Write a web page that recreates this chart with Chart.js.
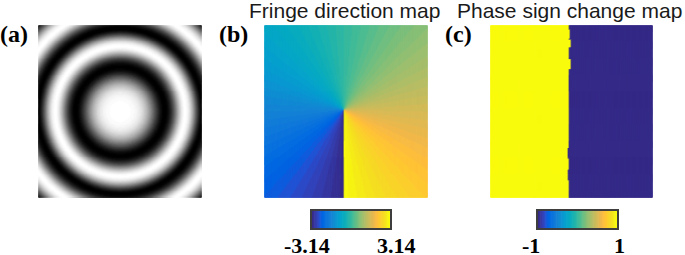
<!DOCTYPE html>
<html><head><meta charset="utf-8">
<script src="https://cdn.jsdelivr.net/npm/chart.js@4/dist/chart.umd.min.js"></script>
<style>
html,body{margin:0;padding:0;background:#fff}
body{width:685px;height:255px;position:relative;overflow:hidden}
.abs{position:absolute}
canvas{display:block}
.lbl{font-family:"Liberation Serif","Times New Roman",serif;font-weight:bold;color:#000;line-height:1;white-space:nowrap}
.ttl{font-family:"Liberation Sans",Arial,sans-serif;font-size:21px;color:#1a1a1a;line-height:1;white-space:nowrap}
.cbox{border:2px solid #3e3e3e;box-sizing:border-box}
</style></head>
<body>
<div class="abs ttl" id="t1" style="left:249px;top:0px"></div>
<div class="abs ttl" id="t2" style="left:457px;top:0px"></div>
<div class="abs lbl" id="la" style="left:0px;top:22px;font-size:24px"></div>
<div class="abs lbl" id="lb" style="left:219px;top:22px;font-size:24px"></div>
<div class="abs lbl" id="lc" style="left:445px;top:22px;font-size:24px"></div>

<canvas class="abs" id="imgA" width="166" height="175" style="left:37px;top:24px"></canvas>
<canvas class="abs" id="imgB" width="166" height="175" style="left:263px;top:24px"></canvas>
<canvas class="abs" id="imgC" width="165" height="175" style="left:489px;top:24px"></canvas>

<div class="abs cbox" style="left:310px;top:209px;width:82px;height:21px"><canvas id="cbB" width="78" height="17"></canvas></div>
<div class="abs cbox" style="left:536px;top:209px;width:83px;height:21px"><canvas id="cbC" width="79" height="17"></canvas></div>

<div class="abs lbl" id="kb0" style="left:284px;top:235px;font-size:22px"></div>
<div class="abs lbl" id="kb1" style="left:377px;top:235px;font-size:22px"></div>
<div class="abs lbl" id="kc0" style="left:522px;top:235px;font-size:22px"></div>
<div class="abs lbl" id="kc1" style="left:614px;top:235px;font-size:22px"></div>

<script>
// ---------- data ----------
const panelLabels = ['(a)', '(b)', '(c)'];
const panelTitles = ['Fringe direction map', 'Phase sign change map'];
// (a) fringe pattern: radii (px from centre) of bright/dark ring extremes and their levels
const fringeRingRadius = [0, 45, 66, 84, 104, 124];
const fringeRingLevel  = [1, 0, 1, 0, 1, 0];
// (b) fringe direction range (radians) and colourbar labels
const directionRange = [-3.14159, 3.14159];
const directionTicks = ['-3.14', '3.14'];
// (c) phase sign values (left, right) and boundary column per row band
const signValues = [1, -1];
const signRange = [-1, 1];
const signTicks = ['-1', '1'];
const signBandStartRow = [0, 5, 14, 15, 23, 35, 45, 125, 136, 147, 158];
const signBandEdgeCol  = [80, 81, 80, 82, 80, 82, 80, 79, 80, 79, 80];

// parula colormap (64 levels)
const parula = [
[0.2081,0.1663,0.5292],[0.2116,0.1898,0.5777],[0.2123,0.2138,0.6270],[0.2081,0.2386,0.6771],
[0.1959,0.2645,0.7279],[0.1707,0.2919,0.7792],[0.1253,0.3242,0.8303],[0.0591,0.3598,0.8683],
[0.0117,0.3875,0.8820],[0.0060,0.4086,0.8828],[0.0165,0.4266,0.8786],[0.0329,0.4430,0.8720],
[0.0498,0.4586,0.8641],[0.0629,0.4737,0.8554],[0.0723,0.4887,0.8467],[0.0779,0.5040,0.8384],
[0.0793,0.5200,0.8312],[0.0749,0.5375,0.8263],[0.0641,0.5570,0.8240],[0.0488,0.5772,0.8228],
[0.0343,0.5966,0.8199],[0.0265,0.6137,0.8135],[0.0239,0.6287,0.8038],[0.0231,0.6418,0.7913],
[0.0228,0.6535,0.7768],[0.0267,0.6642,0.7607],[0.0384,0.6743,0.7436],[0.0590,0.6838,0.7254],
[0.0843,0.6928,0.7062],[0.1133,0.7015,0.6859],[0.1453,0.7098,0.6646],[0.1801,0.7177,0.6424],
[0.2178,0.7250,0.6193],[0.2586,0.7317,0.5954],[0.3022,0.7376,0.5712],[0.3482,0.7424,0.5473],
[0.3953,0.7459,0.5244],[0.4420,0.7481,0.5033],[0.4871,0.7491,0.4840],[0.5300,0.7491,0.4661],
[0.5709,0.7485,0.4494],[0.6099,0.7473,0.4337],[0.6473,0.7456,0.4188],[0.6834,0.7435,0.4044],
[0.7184,0.7411,0.3905],[0.7525,0.7384,0.3768],[0.7858,0.7356,0.3633],[0.8185,0.7327,0.3498],
[0.8507,0.7299,0.3360],[0.8824,0.7274,0.3217],[0.9139,0.7258,0.3063],[0.9450,0.7261,0.2886],
[0.9739,0.7314,0.2666],[0.9938,0.7455,0.2403],[0.9990,0.7653,0.2164],[0.9955,0.7861,0.1967],
[0.9880,0.8066,0.1794],[0.9789,0.8271,0.1633],[0.9697,0.8481,0.1475],[0.9626,0.8705,0.1309],
[0.9589,0.8949,0.1132],[0.9598,0.9218,0.0948],[0.9661,0.9514,0.0755],[0.9763,0.9831,0.0538]];

// ---------- helpers ----------
const toCss = c => 'rgb(' + Math.round(c[0]*255) + ',' + Math.round(c[1]*255) + ',' + Math.round(c[2]*255) + ')';
const parulaCss = parula.map(toCss);
function levelColor(v, lo, hi){
  let i = Math.round((v - lo) / (hi - lo) * 63);
  i = Math.max(0, Math.min(63, i));
  return parulaCss[i];
}
function grayColor(v){
  const g = Math.round(Math.max(0, Math.min(1, v)) * 63) / 63 * 255;
  return 'rgb(' + Math.round(g) + ',' + Math.round(g) + ',' + Math.round(g) + ')';
}
// shading between the read ring extremes (quadratic phase within each ring)
function fringeLevel(r){
  const R = fringeRingRadius, L = fringeRingLevel;
  if (r >= R[R.length-1]) return L[L.length-1];
  for (let i = 0; i < R.length-1; i++){
    if (r < R[i+1]){
      const t = (r*r - R[i]*R[i]) / (R[i+1]*R[i+1] - R[i]*R[i]);
      return L[i] + (L[i+1] - L[i]) * (1 - Math.cos(Math.PI * t)) / 2;
    }
  }
  return 0;
}
function signEdgeForRow(row){
  let e = signBandEdgeCol[0];
  for (let i = 0; i < signBandStartRow.length; i++) if (row >= signBandStartRow[i]) e = signBandEdgeCol[i];
  return e;
}

function imageChart(id, w, h, colorAt){
  const pts = [], cols = [];
  for (let r = 0; r < h; r++) for (let c = 0; c < w; c++){
    pts.push({x: c, y: r});
    cols.push(colorAt(c, r));
  }
  new Chart(document.getElementById(id), {
    type: 'scatter',
    data: {datasets: [{data: pts, pointStyle: 'rect', pointRadius: 1.3, pointHoverRadius: 0,
      pointBorderWidth: 0, borderWidth: 0, pointBackgroundColor: cols}]},
    options: {responsive: false, animation: false, events: [], parsing: false, normalized: true,
      devicePixelRatio: 1, layout: {padding: 0},
      plugins: {legend: {display: false}, tooltip: {enabled: false}, title: {display: false}},
      scales: {x: {type: 'linear', display: false, min: -0.5, max: w - 0.5},
               y: {type: 'linear', display: false, min: -0.5, max: h - 0.5, reverse: true}}}
  });
}

function colorbarChart(id){
  const labels = parulaCss.map((_, i) => i);
  new Chart(document.getElementById(id), {
    type: 'bar',
    data: {labels: labels, datasets: [{data: labels.map(() => 1), backgroundColor: parulaCss,
      borderWidth: 0, barPercentage: 1.0, categoryPercentage: 1.0}]},
    options: {responsive: false, animation: false, events: [], devicePixelRatio: 1, layout: {padding: 0},
      plugins: {legend: {display: false}, tooltip: {enabled: false}},
      scales: {x: {display: false, offset: true}, y: {display: false, min: 0, max: 1}}}
  });
}

// ---------- texts ----------
document.getElementById('la').textContent = panelLabels[0];
document.getElementById('lb').textContent = panelLabels[1];
document.getElementById('lc').textContent = panelLabels[2];
document.getElementById('t1').textContent = panelTitles[0];
document.getElementById('t2').textContent = panelTitles[1];
document.getElementById('kb0').textContent = directionTicks[0];
document.getElementById('kb1').textContent = directionTicks[1];
document.getElementById('kc0').textContent = signTicks[0];
document.getElementById('kc1').textContent = signTicks[1];

// ---------- panels ----------
imageChart('imgA', 166, 175, (c, r) => {
  const dx = c - 83, dy = r - 87.5;
  return grayColor(fringeLevel(Math.sqrt(dx*dx + dy*dy)));
});
imageChart('imgB', 166, 175, (c, r) => {
  const dx = c - 80.5, dy = r - 86;
  const v = Math.atan2(dx, -dy);
  return levelColor(v, directionRange[0], directionRange[1]);
});
imageChart('imgC', 165, 175, (c, r) => {
  const v = c < signEdgeForRow(r) ? signValues[0] : signValues[1];
  return levelColor(v, signRange[0], signRange[1]);
});
colorbarChart('cbB');
colorbarChart('cbC');
</script>
</body></html>
